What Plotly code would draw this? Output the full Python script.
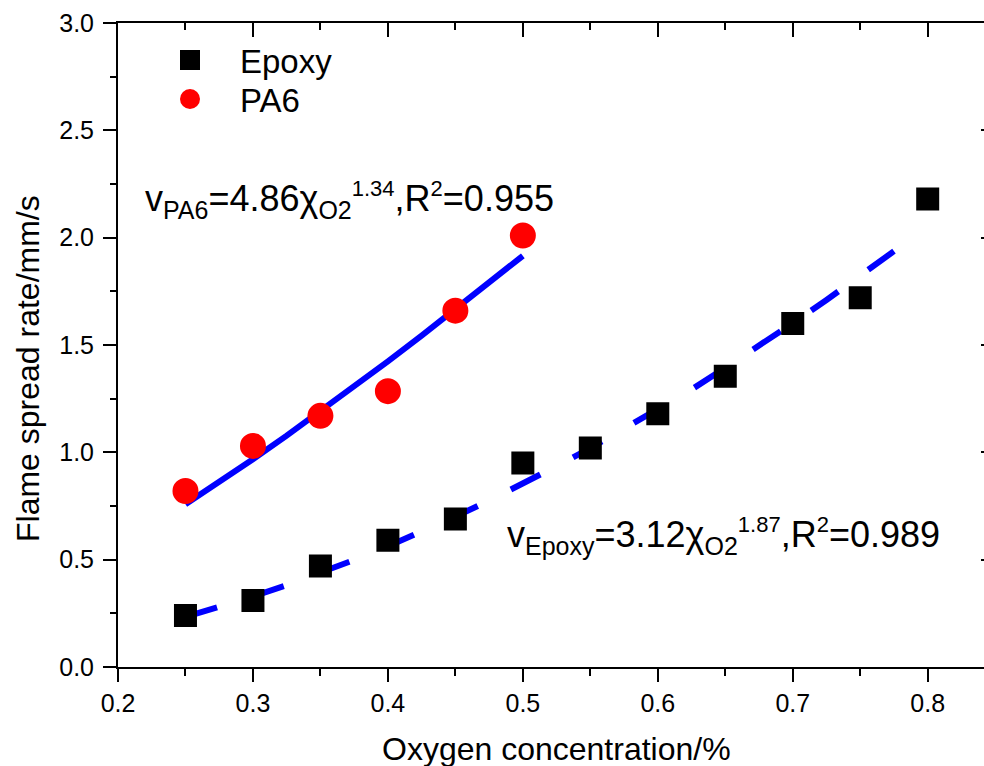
import plotly.graph_objects as go

# ---------------- data ----------------
oxygen_epoxy = [0.25, 0.30, 0.35, 0.40, 0.45, 0.50, 0.55, 0.60, 0.65, 0.70, 0.75, 0.80]
rate_epoxy = [0.24, 0.31, 0.47, 0.59, 0.69, 0.95, 1.02, 1.18, 1.355, 1.60, 1.72, 2.18]

oxygen_pa6 = [0.25, 0.30, 0.35, 0.40, 0.45, 0.50]
rate_pa6 = [0.82, 1.03, 1.17, 1.285, 1.66, 2.01]

# fitted curves (values of v = 3.12*x^1.87 and v = 4.86*x^1.34, tabulated)
fit_x_epoxy = [0.25, 0.275, 0.30, 0.325, 0.35, 0.375, 0.40, 0.425, 0.45, 0.475, 0.50,
               0.525, 0.55, 0.575, 0.60, 0.625, 0.65, 0.675, 0.70, 0.725, 0.75, 0.775]
fit_y_epoxy = [0.2335, 0.2791, 0.3284, 0.3814, 0.4381, 0.4984, 0.5624, 0.6299, 0.7009, 0.7755, 0.8536,
               0.9351, 1.0201, 1.1085, 1.2003, 1.2927, 1.3941, 1.4961, 1.6014, 1.7100, 1.8219, 1.9371]
fit_x_pa6 = [0.25, 0.275, 0.30, 0.325, 0.35, 0.375, 0.40, 0.425, 0.45, 0.475, 0.50]
fit_y_pa6 = [0.7584, 0.8617, 0.9682, 1.0779, 1.1904, 1.3057, 1.4236, 1.5441, 1.6670, 1.7923, 1.9156]

x_tick_vals = [0.2, 0.3, 0.4, 0.5, 0.6, 0.7, 0.8]
y_tick_vals = [0.0, 0.5, 1.0, 1.5, 2.0, 2.5, 3.0]

FONT = "Liberation Sans, Arial, Helvetica, sans-serif"
W, H = 984, 766
ML, MT, MB, MR = 118, 23, 99, 0
PW = W - ML - MR
PH = H - MT - MB
X0 = 0.2
PX_PER_UNIT = 1349.5  # pixels per 1.0 of x
X1 = X0 + PW / PX_PER_UNIT


def px_to_paper_x(px):
    return (px - ML) / PW


def px_to_paper_y(py):
    return (H - MB - py) / PH


fig = go.Figure()

fig.add_trace(go.Scatter(
    x=fit_x_pa6, y=fit_y_pa6, mode="lines",
    line=dict(color="#0000ff", width=6), showlegend=False, hoverinfo="skip"))
fig.add_trace(go.Scatter(
    x=fit_x_epoxy, y=fit_y_epoxy, mode="lines",
    line=dict(color="#0000ff", width=6, dash="33px,37px"), showlegend=False, hoverinfo="skip"))

fig.add_trace(go.Scatter(
    x=oxygen_epoxy, y=rate_epoxy, mode="markers", name="Epoxy", legend="legend",
    marker=dict(symbol="square", size=19, color="black", line=dict(color="black", width=4))))
fig.add_trace(go.Scatter(
    x=oxygen_pa6, y=rate_pa6, mode="markers", name="PA6", legend="legend2",
    marker=dict(symbol="circle", size=22, color="#ff0000", line=dict(color="#ff0000", width=4))))

# empty trace to carry the mirrored top/right axes
fig.add_trace(go.Scatter(x=[], y=[], xaxis="x2", yaxis="y2", showlegend=False, hoverinfo="skip"))

axis_common = dict(showgrid=False, zeroline=False, showline=True, linewidth=2, linecolor="black",
                   tickwidth=2, tickcolor="black")

legend_common = dict(xanchor="left", yanchor="middle", bgcolor="rgba(0,0,0,0)",
                     font=dict(size=33, family=FONT, color="black"), itemwidth=90)

fig.update_layout(
    width=W, height=H,
    margin=dict(l=ML, r=MR, t=MT, b=MB, pad=0),
    plot_bgcolor="white", paper_bgcolor="white",
    font=dict(family=FONT, color="black", size=25),
    xaxis=dict(range=[X0, X1], tickvals=x_tick_vals, ticktext=[f"{v:.1f}" for v in x_tick_vals],
               ticks="outside", ticklen=13,
               minor=dict(ticks="outside", ticklen=7, tickwidth=2, tickcolor="black", dtick=0.05, tick0=0.2),
               tickfont=dict(size=25), **axis_common),
    yaxis=dict(range=[0, 3], tickvals=y_tick_vals, ticktext=[f"{v:.1f}" for v in y_tick_vals],
               ticks="outside", ticklen=13, ticklabelstandoff=4,
               minor=dict(ticks="outside", ticklen=6, tickwidth=2, tickcolor="black", dtick=0.25, tick0=0),
               tickfont=dict(size=25), **axis_common),
    xaxis2=dict(overlaying="x", matches="x", anchor="y2", side="top", showticklabels=False,
                tickvals=x_tick_vals, ticks="inside", ticklen=14,
                minor=dict(ticks="inside", ticklen=7, tickwidth=2, tickcolor="black", dtick=0.05, tick0=0.2),
                **axis_common),
    yaxis2=dict(overlaying="y", matches="y", anchor="x2", side="right", showticklabels=False,
                tickvals=y_tick_vals, ticks="inside", ticklen=3, showgrid=False, zeroline=False,
                showline=False, tickwidth=2, tickcolor="black"),
    legend=dict(x=px_to_paper_x(140), y=px_to_paper_y(60), **legend_common),
    legend2=dict(x=px_to_paper_x(140), y=px_to_paper_y(99), **legend_common),
    showlegend=True,
)

sub = lambda t: f"<sub><span style='font-size:25px'>{t}</span></sub>"
sup = lambda t: f"<sup><span style='font-size:22px'>{t}</span></sup>"

eq_pa6 = "v" + sub("PA6") + "=4.86χ" + sub("O2") + sup("1.34") + ",R" + sup("2") + "=0.955"
eq_epoxy = "v" + sub("Epoxy") + "=3.12χ" + sub("O2") + sup("1.87") + ",R" + sup("2") + "=0.989"

fig.add_annotation(text=eq_pa6, xref="paper", yref="paper", x=px_to_paper_x(143), y=px_to_paper_y(200),
                   xanchor="left", yanchor="middle", showarrow=False, font=dict(size=36, family=FONT))
fig.add_annotation(text=eq_epoxy, xref="paper", yref="paper", x=px_to_paper_x(505), y=px_to_paper_y(536),
                   xanchor="left", yanchor="middle", showarrow=False, font=dict(size=36, family=FONT))

fig.add_annotation(text="Oxygen concentration/%", xref="paper", yref="paper",
                   x=px_to_paper_x(556), y=px_to_paper_y(749), xanchor="center", yanchor="middle",
                   showarrow=False, font=dict(size=32, family=FONT))
fig.add_annotation(text="Flame spread rate/mm/s", xref="paper", yref="paper", textangle=-90,
                   x=px_to_paper_x(28), y=px_to_paper_y(369), xanchor="center", yanchor="middle",
                   showarrow=False, font=dict(size=32, family=FONT))

# remove the browser's default body margin so the 984x766 figure fills the window exactly
fig.write_html("out.html", config={"displayModeBar": False},
               post_script="document.body.style.margin='0';document.body.style.overflow='hidden';")
